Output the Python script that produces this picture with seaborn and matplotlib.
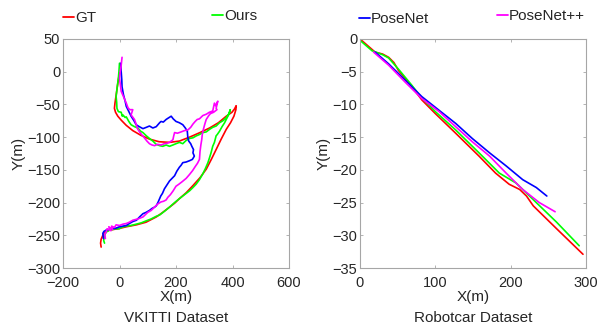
import matplotlib
matplotlib.use("Agg")
import matplotlib.pyplot as plt
import seaborn as sns
import pandas as pd
from matplotlib.lines import Line2D

sns.set_style("white")
plt.rcParams['font.family'] = ['Liberation Sans', 'DejaVu Sans']

# ---------------- VKITTI data ----------------
vk_gt_x = [0, -4, -8, -12, -16, -18, -14, -6, 6, 24,
           47, 75, 106, 140, 177, 212, 248, 285, 319, 350,
           378, 398, 407, 413, 412, 405, 393, 378, 360, 342,
           325, 307, 285, 260, 236, 212, 195, 177, 150, 130,
           94, 60, 24, -5, -35, -50, -59, -65, -67, -65]
vk_gt_y = [-2, -12, -24, -36, -48, -56, -62, -68, -74, -82,
           -90, -97, -103, -107, -108, -106, -100, -93, -86, -78,
           -68, -62, -57, -52, -58, -68, -78, -88, -103, -119,
           -134, -149, -162, -174, -185, -194, -201, -207, -216, -222,
           -230, -234, -237, -240, -242, -245, -250, -256, -262, -268]

vk_ours_x = [0, -2, -4, -8, -12, -10, -9, -4, 6, 10,
             12, 20, 24, 33, 41, 53, 65, 75, 83, 95,
             106, 118, 130, 142, 153, 165, 177, 189, 200, 212,
             224, 236, 248, 260, 272, 283, 295, 307, 319, 330,
             342, 354, 366, 378, 389, 392, 386, 379, 372, 363,
             354, 346, 342, 336, 330, 324, 319, 313, 304, 295,
             283, 271, 260, 248, 236, 224, 212, 195, 177, 160,
             142, 130, 112, 94, 77, 59, 41, 24, 6, 0,
             -12, -24, -35, -47, -53, -56, -53]
vk_ours_y = [13, 0, -10, -23, -38, -47, -56, -61, -62, -68,
             -66, -70, -69, -76, -81, -84, -86, -91, -93, -98,
             -102, -106, -111, -113, -114, -112, -114, -112, -110, -108,
             -110, -105, -102, -101, -98, -96, -93, -92, -88, -85,
             -83, -78, -75, -70, -63, -58, -66, -72, -78, -84,
             -91, -96, -98, -108, -114, -124, -131, -139, -148, -156,
             -165, -172, -177, -182, -186, -190, -194, -200, -207, -213,
             -219, -221, -225, -228, -231, -233, -235, -236, -238, -240,
             -240, -241, -242, -245, -250, -258, -262]

vk_pn_x = [4, 6, 8, 9, 14, 20, 24, 32, 41, 50,
           59, 70, 83, 95, 106, 118, 130, 142, 147, 155,
           165, 172, 183, 190, 200, 212, 224, 233, 240, 242,
           245, 252, 256, 262, 260, 265, 258, 248, 236, 224,
           218, 212, 203, 195, 186, 177, 168, 159, 152, 146,
           142, 136, 130, 124, 115, 106, 94, 83, 71, 60,
           47, 35, 24, 12, 0, -12, -24, -35, -47, -55,
           -59, -57]
vk_pn_y = [13, 0, -12, -23, -35, -45, -53, -60, -68, -74,
           -81, -84, -87, -85, -83, -86, -84, -78, -76, -77,
           -73, -71, -68, -72, -76, -78, -81, -86, -91, -101,
           -106, -110, -114, -119, -124, -129, -134, -136, -138, -139,
           -143, -146, -152, -159, -163, -167, -173, -179, -186, -190,
           -194, -200, -205, -207, -209, -212, -215, -217, -222, -227,
           -229, -232, -235, -236, -237, -239, -240, -241, -242, -244,
           -247, -255]

vk_pnpp_x = [9, 6, 2, 0, 4, 6, 12, 18, 24, 30,
             36, 47, 41, 48, 53, 58, 62, 65, 71, 80,
             88, 97, 106, 115, 124, 135, 147, 159, 171, 180,
             189, 192, 195, 205, 218, 230, 242, 252, 260, 268,
             275, 283, 295, 307, 318, 330, 336, 340, 348, 342,
             345, 333, 322, 316, 307, 302, 297, 293, 291, 288,
             285, 283, 276, 268, 259, 248, 236, 222, 210, 200,
             190, 180, 171, 165, 156, 147, 136, 124, 112, 100,
             83, 65, 47, 35, 24, 12, 0, -12, -18, -28,
             -24, -38, -30, -44, -47, -52, -50]
vk_pnpp_y = [22, 10, -2, -10, -23, -30, -36, -42, -48, -55,
             -58, -58, -66, -70, -73, -79, -85, -88, -92, -97,
             -101, -106, -110, -112, -113, -111, -112, -110, -109, -107,
             -104, -98, -93, -94, -92, -90, -89, -85, -80, -76,
             -73, -72, -67, -65, -62, -60, -48, -52, -45, -56,
             -58, -62, -64, -67, -73, -80, -88, -96, -104, -112,
             -122, -134, -140, -145, -151, -157, -163, -168, -172, -175,
             -182, -188, -192, -196, -198, -199, -202, -207, -212, -215,
             -222, -225, -227, -230, -232, -233, -235, -234, -238, -236,
             -241, -237, -243, -240, -245, -248, -255]

# ---------------- Robotcar data ----------------
rc_gt_x = [0, 20, 30, 38, 45, 51, 69, 82, 100, 127, 158, 180, 198, 212, 221, 230, 261, 296]
rc_gt_y = [0, -2.0, -2.3, -2.8, -3.6, -4.8, -7.3, -9.3, -11.4, -14.4, -17.9, -20.5, -22.2, -23.0, -24.0, -25.5, -29.0, -32.9]

rc_ours_x = [0, 16, 30, 38, 51, 69, 82, 100, 127, 158, 185, 207, 225, 261, 291]
rc_ours_y = [-0.2, -1.8, -2.4, -2.9, -4.6, -7.1, -9.0, -11.1, -13.9, -17.4, -20.5, -22.0, -24.0, -28.0, -31.6]

rc_pn_x = [20, 38, 60, 82, 105, 127, 149, 172, 194, 216, 234, 248]
rc_pn_y = [-2.0, -3.8, -6.3, -8.8, -10.9, -12.9, -15.2, -17.4, -19.4, -21.5, -22.7, -24.0]

rc_pnpp_x = [18, 38, 60, 82, 105, 127, 149, 172, 194, 216, 238, 259]
rc_pnpp_y = [-2.0, -4.0, -6.6, -9.1, -11.1, -13.4, -15.7, -17.9, -20.5, -23.0, -25.0, -26.4]

names = ["GT", "Ours", "PoseNet", "PoseNet++"]
colors = ["#ff0000", "#00ff00", "#0000ff", "#ff00ff"]

W, H = 604, 333
fig = plt.figure(figsize=(W / 100, H / 100), dpi=100)

def frac(l, t, r, b):
    return [l / W, 1 - b / H, (r - l) / W, (b - t) / H]

ax1 = fig.add_axes(frac(63, 39, 289, 268))
ax2 = fig.add_axes(frac(360, 39, 586, 268))

left_sets = [(vk_gt_x, vk_gt_y), (vk_ours_x, vk_ours_y), (vk_pn_x, vk_pn_y), (vk_pnpp_x, vk_pnpp_y)]
right_sets = [(rc_gt_x, rc_gt_y), (rc_ours_x, rc_ours_y), (rc_pn_x, rc_pn_y), (rc_pnpp_x, rc_pnpp_y)]

for ax, sets in [(ax1, left_sets), (ax2, right_sets)]:
    for i in range(4):
        xs, ys = sets[i]
        df = pd.DataFrame({"x": xs, "y": ys})
        sns.lineplot(data=df, x="x", y="y", ax=ax, sort=False, estimator=None,
                     color=colors[i], linewidth=1.2)

ax1.set_xlim(-200, 600)
ax1.set_ylim(-300, 50)
ax1.set_xticks([-200, 0, 200, 400, 600])
ax1.set_yticks([50, 0, -50, -100, -150, -200, -250, -300])
ax2.set_xlim(0, 300)
ax2.set_ylim(-35, 0)
ax2.set_xticks([0, 100, 200, 300])
ax2.set_yticks([0, -5, -10, -15, -20, -25, -30, -35])

for ax, title in [(ax1, "VKITTI Dataset"), (ax2, "Robotcar Dataset")]:
    for s in ax.spines.values():
        s.set_visible(True)
        s.set_color("#a6a6a6")
        s.set_linewidth(0.8)
    ax.tick_params(direction="in", length=2.5, width=0.6, color="#a6a6a6",
                   labelsize=10.5, labelcolor="#262626", top=True, right=True,
                   left=True, bottom=True)
    ax.tick_params(axis="x", pad=5.5)
    ax.tick_params(axis="y", pad=2)
    ax.set_xlabel("X(m)", fontsize=11, color="#262626", labelpad=0.5)
    ax.set_ylabel("Y(m)", fontsize=11, color="#262626", labelpad=1)
    ax.text(0.5, -(318 - 268) / 229, title, transform=ax.transAxes, ha="center",
            va="center", fontsize=11, color="#262626")

# separate legend entries above the panels
leg_pos = [(63, 18.5), (212, 16), (359, 19), (497, 16)]
for i, (px, py) in enumerate(leg_pos):
    h = Line2D([], [], color=colors[i], linewidth=1.3)
    fig.legend(handles=[h], labels=[names[i]], loc="center left",
               bbox_to_anchor=(px / W, 1 - py / H), frameon=False,
               handlelength=0.7, handletextpad=0.1, borderpad=0, borderaxespad=0,
               fontsize=11)

fig.savefig("out.png", dpi=100)
